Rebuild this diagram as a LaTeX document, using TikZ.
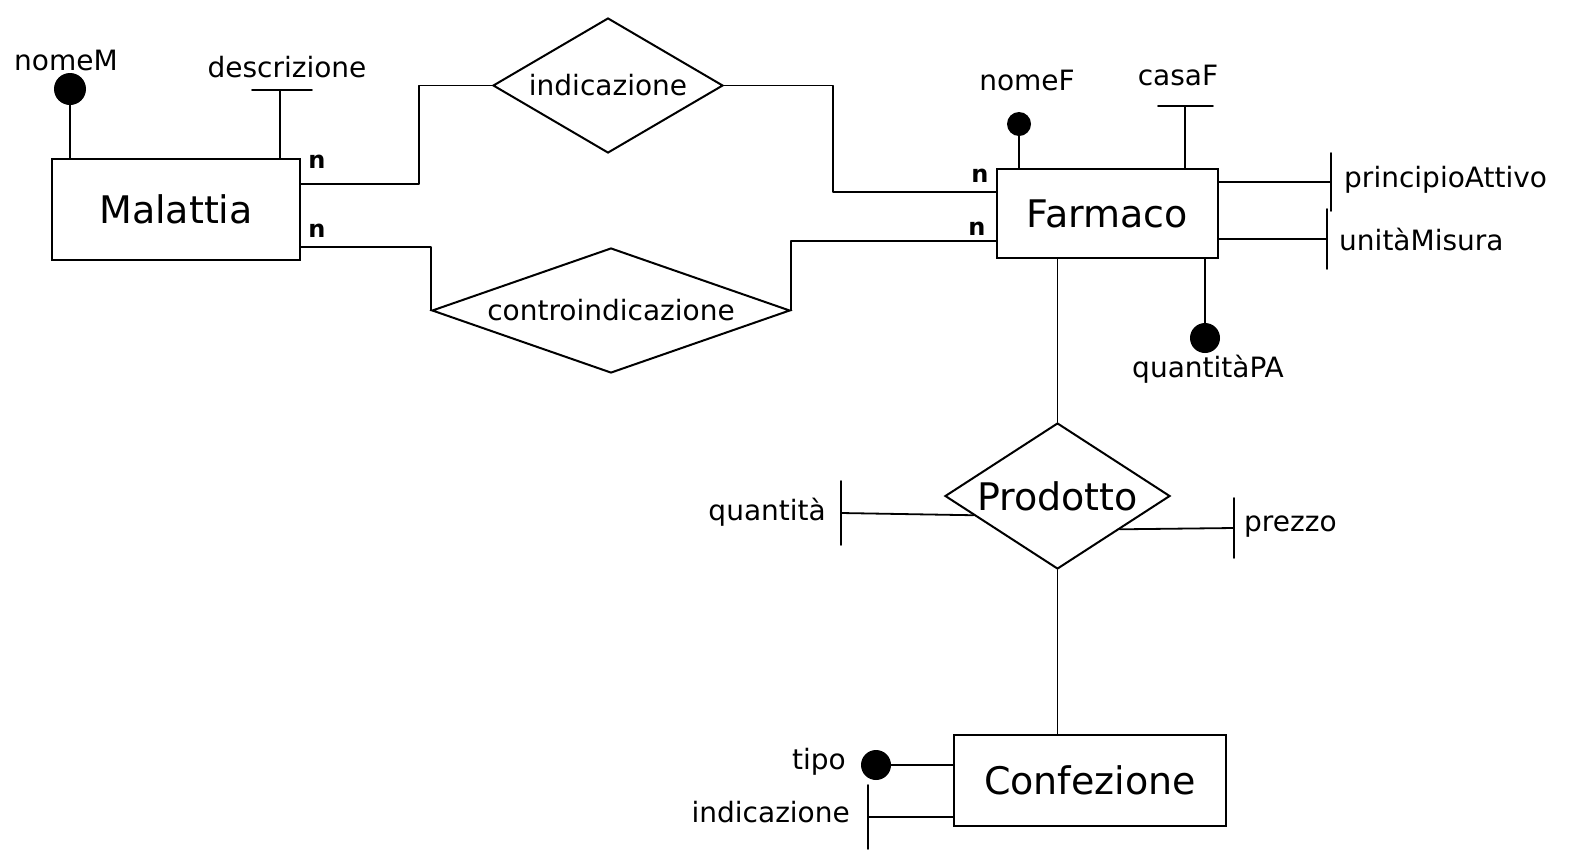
\documentclass[tikz,border=0pt]{standalone}
\usepackage{fontspec}
\setmainfont{DejaVu Sans}
\usetikzlibrary{shapes.geometric,calc}
\begin{document}
\begin{tikzpicture}[x=1pt,y=-1pt,
  entity/.style={draw,rectangle,line width=2.2pt,inner sep=0pt},
  rel/.style={draw,diamond,line width=2pt,inner sep=0pt},
  conn/.style={line width=1.8pt,line cap=round,line join=round},
  keydot/.style={circle,fill=black,inner sep=0pt},
  attr/.style={font=\fontsize{28}{32}\selectfont,inner sep=0pt},
  bigtext/.style={font=\fontsize{38}{44}\selectfont},
  reltext/.style={font=\fontsize{28}{32}\selectfont},
  card/.style={font=\fontsize{24}{28}\selectfont\bfseries,inner sep=0pt}
]
\fill[white] (0,0) rectangle (1579,855);
\useasboundingbox (0,0) rectangle (1579,855);

% entities
\node[entity,minimum width=248pt,minimum height=101pt,label={[bigtext]center:Malattia}] (mal) at (176,209.5) {};
\node[entity,minimum width=221pt,minimum height=89pt,label={[bigtext]center:Farmaco}] (farm) at (1107.5,213.5) {};
\node[entity,minimum width=272pt,minimum height=91pt,label={[bigtext]center:Confezione}] (conf) at (1090,780.5) {};

% relationships
\node[rel,minimum width=230pt,minimum height=135pt,label={[reltext]center:indicazione}] (ind) at (608,85.5) {};
\node[rel,minimum width=358pt,minimum height=125pt,label={[reltext]center:controindicazione}] (contra) at (611,310.5) {};
\node[rel,minimum width=225pt,minimum height=146pt,label={[bigtext]center:Prodotto}] (prod) at (1057.5,496) {};

% relationship connectors
\draw[conn] ([yshift=25.5pt]mal.east) -- ++(118,0) |- (ind.west);
\draw[conn] (ind.east) -- ++(109,0) |- ([yshift=21.5pt]farm.west);
\draw[conn] ([yshift=-37.5pt]mal.east) -| (contra.west);
\draw[conn] (contra.east) |- ([yshift=-27.5pt]farm.west);
\draw[conn] (farm.south -| prod.north) -- (prod.north);
\draw[conn] (prod.south) -- (prod.south |- conf.north);

% cardinalities
\node[card] (c1) at (317,162) {n};
\node[card] (c2) at (317,231) {n};
\node[card] (c3) at (980,176) {n};
\node[card] (c4) at (977,229) {n};

% Malattia attributes
\node[keydot,minimum size=32pt] (dnomeM) at (70,89) {};
\node[attr] (lnomeM) at (66,60) {nomeM};
\draw[conn] (dnomeM) -- (dnomeM |- mal.north);
\coordinate (bdesc) at (280,90);
\node[attr] (ldesc) at (287,67) {descrizione};
\draw[conn] ([xshift=-28pt]bdesc) -- ([xshift=32pt]bdesc);
\draw[conn] (bdesc) -- (bdesc |- mal.north);

% Farmaco attributes
\node[keydot,minimum size=24pt] (dnomeF) at (1019,124) {};
\node[attr] (lnomeF) at (1027,80) {nomeF};
\draw[conn] (dnomeF) -- (dnomeF |- farm.north);
\coordinate (bcasa) at (1185,106);
\node[attr] (lcasa) at (1178,75) {casaF};
\draw[conn] ([xshift=-27pt]bcasa) -- ([xshift=28pt]bcasa);
\draw[conn] (bcasa) -- (bcasa |- farm.north);
\coordinate (bpa) at (1331,182);
\node[attr,anchor=west] (lpa) at (1344,180) {principioAttivo};
\draw[conn] ([yshift=29pt]bpa) -- ([yshift=-29pt]bpa);
\draw[conn] (bpa) -- (bpa -| farm.east);
\coordinate (bum) at (1327,239);
\node[attr,anchor=west] (lum) at (1339,239) {unitàMisura};
\draw[conn] ([yshift=30pt]bum) -- ([yshift=-30pt]bum);
\draw[conn] (bum) -- (bum -| farm.east);
\node[keydot,minimum size=30pt] (dqpa) at (1205,338) {};
\node[attr] (lqpa) at (1208,369) {quantitàPA};
\draw[conn] (dqpa) -- (dqpa |- farm.south);

% Prodotto attributes
\coordinate (bqt) at (841,513);
\node[attr,anchor=east] (lqt) at (826,512) {quantità};
\draw[conn] ([yshift=32pt]bqt) -- ([yshift=-32pt]bqt);
\draw[conn] (bqt) -- ($(prod.west)!0.26!(prod.south)$);
\coordinate (bprezzo) at (1234,528);
\node[attr,anchor=west] (lprezzo) at (1244,527) {prezzo};
\draw[conn] ([yshift=30pt]bprezzo) -- ([yshift=-30pt]bprezzo);
\draw[conn] (bprezzo) -- ($(prod.east)!0.45!(prod.south)$);

% Confezione attributes
\node[keydot,minimum size=30pt] (dtipo) at (876,765) {};
\node[attr,anchor=east] (ltipo) at (846,762) {tipo};
\draw[conn] (dtipo) -- (dtipo -| conf.west);
\coordinate (bindc) at (868,817);
\node[attr,anchor=east] (lindc) at (850,812) {indicazione};
\draw[conn] ([yshift=32pt]bindc) -- ([yshift=-32pt]bindc);
\draw[conn] (bindc) -- (bindc -| conf.west);
\end{tikzpicture}
\end{document}
